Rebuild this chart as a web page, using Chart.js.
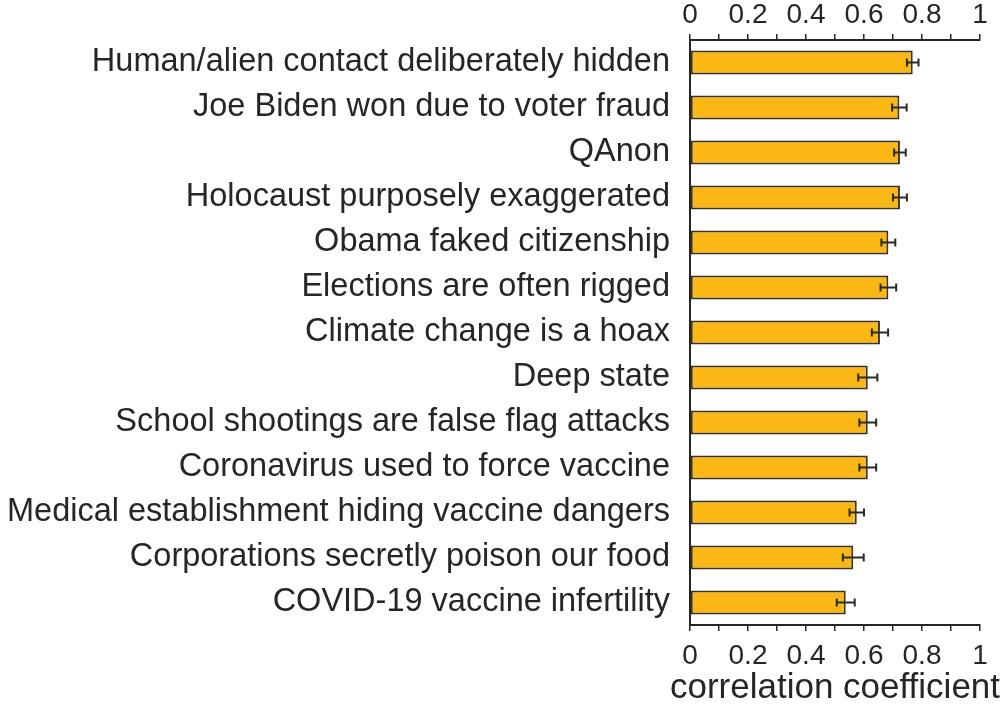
<!DOCTYPE html>
<html>
<head>
<meta charset="utf-8">
<script src="https://cdn.jsdelivr.net/npm/chart.js@4.4.0/dist/chart.umd.min.js"></script>
<style>
  html, body { margin: 0; padding: 0; background: #fff; }
  #wrap { width: 1000px; height: 704px; position: relative; }
</style>
</head>
<body>
<div id="wrap"><canvas id="chart"></canvas></div>
<script>
// conspiracy beliefs vs. correlation coefficient
const categories = [
  'Human/alien contact deliberately hidden',
  'Joe Biden won due to voter fraud',
  'QAnon',
  'Holocaust purposely exaggerated',
  'Obama faked citizenship',
  'Elections are often rigged',
  'Climate change is a hoax',
  'Deep state',
  'School shootings are false flag attacks',
  'Coronavirus used to force vaccine',
  'Medical establishment hiding vaccine dangers',
  'Corporations secretly poison our food',
  'COVID-19 vaccine infertility'
];
const values = [0.768, 0.722, 0.724, 0.724, 0.684, 0.684, 0.655, 0.613, 0.613, 0.613, 0.575, 0.563, 0.537];
const errors = [0.020, 0.025, 0.020, 0.024, 0.024, 0.027, 0.028, 0.033, 0.029, 0.029, 0.025, 0.036, 0.031];
const tickMin = 0;
const tickMax = 1;
const tickStep = 0.1;
const axisTitle = 'correlation coefficient';

const FONT = '"Liberation Sans", Arial, Helvetica, sans-serif';
const INK = '#262626';

// error bars, drawn through the x scale
const errorBars = {
  id: 'errorBars',
  afterDatasetsDraw(chart) {
    const { ctx } = chart;
    const xs = chart.scales.x;
    const meta = chart.getDatasetMeta(0);
    ctx.save();
    ctx.strokeStyle = '#2a2a2a';
    ctx.lineWidth = 2;
    meta.data.forEach((bar, i) => {
      const lo = xs.getPixelForValue(values[i] - errors[i]);
      const hi = xs.getPixelForValue(values[i] + errors[i]);
      const y = bar.y;
      ctx.beginPath();
      ctx.moveTo(lo, y); ctx.lineTo(hi, y);
      ctx.moveTo(lo, y - 4); ctx.lineTo(lo, y + 4);
      ctx.moveTo(hi, y - 4); ctx.lineTo(hi, y + 4);
      ctx.stroke();
    });
    ctx.restore();
  }
};

// axis title under the bottom scale; the built-in one is squeezed to the axis width
const bottomTitle = {
  id: 'bottomTitle',
  afterDraw(chart) {
    const { ctx } = chart;
    const s = chart.scales.x2;
    ctx.save();
    ctx.font = '35px ' + FONT;
    ctx.fillStyle = INK;
    ctx.textAlign = 'center';
    ctx.textBaseline = 'alphabetic';
    ctx.fillText(axisTitle, (s.left + s.right) / 2, s.bottom - 6);
    ctx.restore();
  }
};

const tickLabel = (v) => {
  const t = Math.round(v * 10);
  return t % 2 === 0 ? String(t / 10) : '';
};

const xAxis = (position, pad, extra) => Object.assign({
  position,
  min: tickMin,
  max: tickMax,
  grid: { display: true, drawOnChartArea: false, drawTicks: true, tickLength: 6, color: INK, lineWidth: 1.5 },
  border: { display: true, color: INK, width: 2 },
  ticks: {
    stepSize: tickStep,
    autoSkip: false,
    maxRotation: 0,
    padding: pad,
    color: INK,
    font: { family: FONT, size: 28 },
    callback: tickLabel
  }
}, extra);

new Chart(document.getElementById('chart'), {
  type: 'bar',
  data: {
    labels: categories,
    datasets: [{
      data: values,
      xAxisID: 'x',
      backgroundColor: '#FBB814',
      borderColor: '#3b3322',
      borderWidth: 2,
      borderSkipped: false,
      barPercentage: 0.53,
      categoryPercentage: 1
    }]
  },
  options: {
    indexAxis: 'y',
    responsive: true,
    maintainAspectRatio: false,
    animation: false,
    layout: { padding: { left: 0, right: 20, top: 0, bottom: 0 } },
    plugins: { legend: { display: false }, tooltip: { enabled: false } },
    scales: {
      x: xAxis('top', 2, {
        afterFit: (s) => { s.height = 40; }
      }),
      x2: xAxis('bottom', 8, {
        afterFit: (s) => { s.height = 79; }
      }),
      y: {
        position: 'left',
        grid: { display: false },
        border: { display: true, color: INK, width: 2 },
        ticks: {
          padding: 12,
          color: INK,
          font: { family: FONT, size: 32.5 },
          autoSkip: false
        },
        afterFit: (s) => { s.width = 690; }
      }
    }
  },
  plugins: [errorBars, bottomTitle]
});
</script>
</body>
</html>
